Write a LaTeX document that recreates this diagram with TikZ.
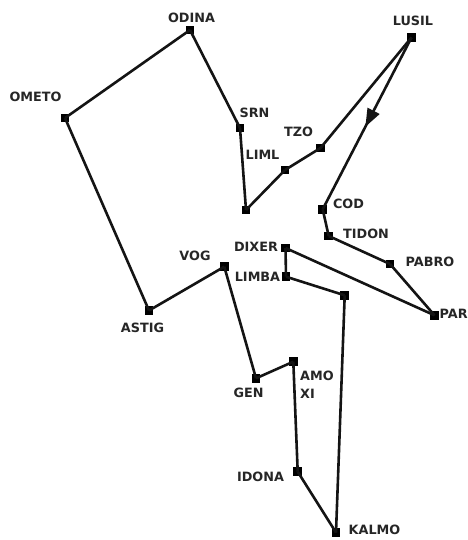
\documentclass[tikz,border=0pt]{standalone}
\usepackage{fontspec}
\setmainfont{DejaVu Sans}
\usetikzlibrary{arrows.meta,decorations.markings}
\begin{document}
\begin{tikzpicture}[x=1pt,y=-1pt,
  sq/.style={fill=black,inner sep=0pt,minimum size=8.5pt,draw=none},
  lbl/.style={font=\fontsize{12.8}{14}\selectfont\bfseries,text=black!85,inner sep=0pt},
  edge/.style={line width=2.6pt,black!92}]
\useasboundingbox (0,0) rectangle (467,540);
% points
\node[sq] (odina) at (190,30) {};
\node[sq] (ometo) at (65,118) {};
\node[sq] (srn) at (240,128) {};
\node[sq] (lim0) at (246,210) {};
\node[sq] (liml) at (285,170) {};
\node[sq] (tzo) at (320.5,148) {};
\node[sq] (lusil) at (411.5,37.5) {};
\node[sq] (cod) at (322.7,209.3) {};
\node[sq] (tidon) at (328.7,236) {};
\node[sq] (pabro) at (390,264) {};
\node[sq] (par) at (434.5,315.3) {};
\node[sq] (dixer) at (285.5,248) {};
\node[sq] (limba) at (286,276.7) {};
\node[sq] (lim1) at (344.7,295.3) {};
\node[sq] (kalmo) at (336,532.5) {};
\node[sq] (idona) at (297.7,471.7) {};
\node[sq] (amo) at (293.3,361.7) {};
\node[sq] (gen) at (256,378.3) {};
\node[sq] (vog) at (224.3,266.7) {};
\node[sq] (astig) at (149,310.5) {};
% edges
\draw[edge] (odina.center) -- (ometo.center);
\draw[edge] (odina.center) -- (srn.center);
\draw[edge] (ometo.center) -- (astig.center);
\draw[edge] (srn.center) -- (lim0.center);
\draw[edge] (lim0.center) -- (liml.center);
\draw[edge] (liml.center) -- (tzo.center);
\draw[edge] (tzo.center) -- (lusil.center);
\draw[edge,postaction={decorate},decoration={markings,
   mark=at position 0.52 with {\arrow{Triangle[length=18pt,width=13pt]}}}]
   (lusil.center) -- (cod.center);
\draw[edge] (cod.center) -- (tidon.center);
\draw[edge] (tidon.center) -- (pabro.center);
\draw[edge] (pabro.center) -- (par.center);
\draw[edge] (par.center) -- (dixer.center);
\draw[edge] (dixer.center) -- (limba.center);
\draw[edge] (limba.center) -- (lim1.center);
\draw[edge] (lim1.center) -- (kalmo.center);
\draw[edge] (kalmo.center) -- (idona.center);
\draw[edge] (idona.center) -- (amo.center);
\draw[edge] (amo.center) -- (gen.center);
\draw[edge] (gen.center) -- (vog.center);
\draw[edge] (vog.center) -- (astig.center);
% labels
\node[lbl] (l-odina) at (191.5,17.5) {ODINA};
\node[lbl] (l-ometo) at (35.5,97) {OMETO};
\node[lbl] (l-srn) at (254.5,113) {SRN};
\node[lbl] (l-tzo) at (298.5,132) {TZO};
\node[lbl] (l-liml) at (262.5,155) {LIML};
\node[lbl] (l-lusil) at (413,21) {LUSIL};
\node[lbl] (l-cod) at (348.5,204) {COD};
\node[lbl] (l-tidon) at (366,234) {TIDON};
\node[lbl] (l-pabro) at (430,261.5) {PABRO};
\node[lbl,anchor=west] (l-par) at (439.5,314) {PAR};
\node[lbl] (l-dixer) at (256,247) {DIXER};
\node[lbl] (l-limba) at (257.5,277) {LIMBA};
\node[lbl] (l-vog) at (195,255.5) {VOG};
\node[lbl] (l-astig) at (142.5,328) {ASTIG};
\node[lbl] (l-gen) at (248.5,393) {GEN};
\node[lbl,anchor=west] (l-amo) at (300,376) {AMO};
\node[lbl,anchor=west] (l-xi) at (300,394) {XI};
\node[lbl] (l-idona) at (260.5,477) {IDONA};
\node[lbl] (l-kalmo) at (374.5,530) {KALMO};
\end{tikzpicture}
\end{document}
